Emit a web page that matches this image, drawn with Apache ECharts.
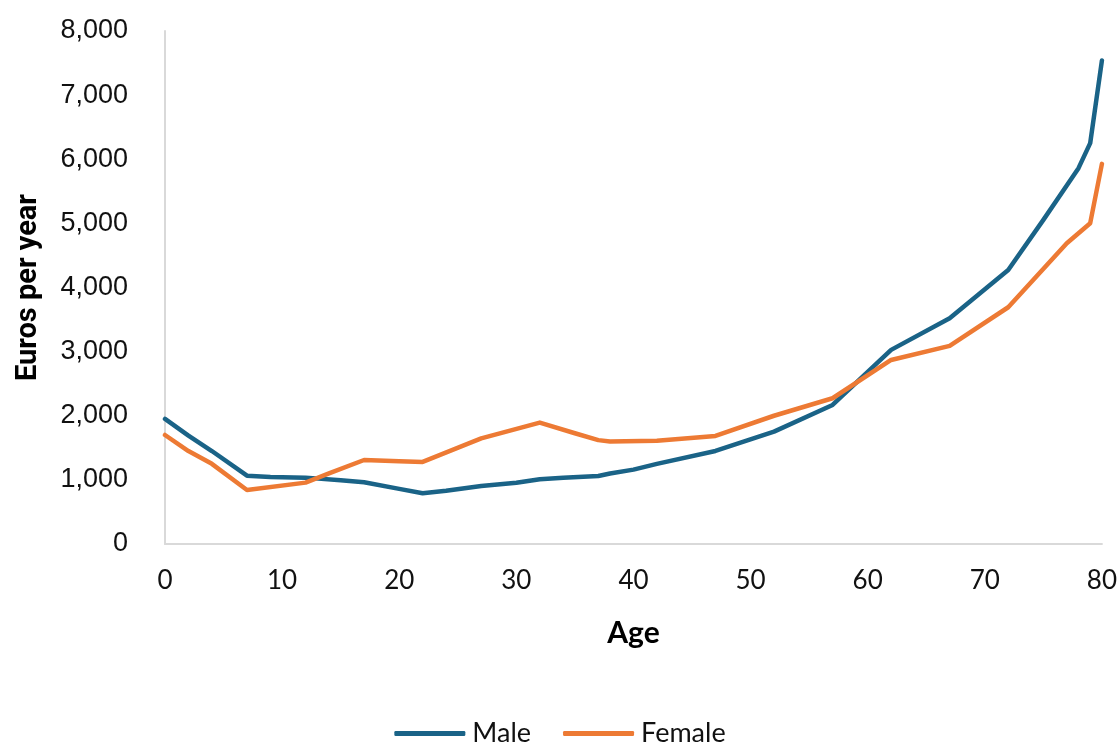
<!DOCTYPE html>
<html>
<head>
<meta charset="utf-8">
<script src="https://cdn.jsdelivr.net/npm/echarts@6/dist/echarts.min.js"></script>
<style>
  html, body { margin: 0; padding: 0; background: #fff; }
  #chart { width: 1120px; height: 744px; }
</style>
</head>
<body>
<div id="chart"></div>
<script>
// ages where the lines bend
var maleAges = [0, 2, 4, 7, 9, 12, 15, 17, 20, 22, 24, 27, 30, 32, 34, 37, 38, 40, 42, 47, 52, 57, 62, 67, 72, 75, 78, 79, 80];
var maleValues = [1950, 1690, 1450, 1065, 1045, 1035, 995, 962, 860, 791, 830, 905, 956, 1010, 1035, 1060, 1100, 1160, 1250, 1451, 1752, 2168, 3027, 3521, 4274, 5055, 5861, 6251, 7540];

var femaleAges = [0, 2, 4, 7, 12, 14, 17, 20, 22, 27, 32, 35, 37, 38, 42, 47, 52, 57, 62, 67, 72, 77, 79, 80];
var femaleValues = [1700, 1450, 1250, 842, 957, 1100, 1310, 1290, 1280, 1648, 1893, 1727, 1620, 1600, 1610, 1685, 2000, 2273, 2870, 3089, 3692, 4691, 5003, 5928];

var seriesNames = ['Male', 'Female'];
var seriesColors = ['#1a6387', '#ed7a34'];

function pairs(xs, ys) {
    return xs.map(function (x, i) { return [x, ys[i]]; });
}

var chart = echarts.init(document.getElementById('chart'));

var option = {
    animation: false,
    grid: { left: 165, right: 17, top: 31, bottom: 200 },
    legend: {
        data: seriesNames,
        left: 'center',
        top: 715,
        icon: 'roundRect',
        itemWidth: 71,
        itemHeight: 5,
        itemGap: 32,
        textStyle: { fontFamily: 'Lato', fontSize: 27, color: '#111', padding: [0, 0, 0, 2] }
    },
    xAxis: {
        type: 'value',
        min: 0,
        max: 80,
        interval: 10,
        name: 'Age',
        nameLocation: 'middle',
        nameGap: 74,
        nameTextStyle: { fontFamily: 'Lato', fontWeight: 'bold', fontSize: 30, color: '#000' },
        axisLine: { show: true, lineStyle: { color: '#d9d9d9', width: 2 } },
        axisTick: { show: false },
        splitLine: { show: false },
        axisLabel: { fontFamily: 'Lato', fontSize: 26, color: '#111', margin: 24 }
    },
    yAxis: {
        type: 'value',
        min: 0,
        max: 8000,
        interval: 1000,
        name: 'Euros per year',
        nameLocation: 'middle',
        nameRotate: 90,
        nameGap: 122,
        nameTextStyle: { fontFamily: 'Roboto', fontWeight: 'bold', fontSize: 29, color: '#000' },
        axisLine: { show: true, lineStyle: { color: '#d9d9d9', width: 2 } },
        axisTick: { show: false },
        splitLine: { show: false },
        axisLabel: {
            fontFamily: 'Liberation Sans',
            fontSize: 27,
            color: '#111',
            margin: 37,
            formatter: function (v) { return v.toLocaleString('en-US'); }
        }
    },
    series: [
        {
            name: seriesNames[0],
            type: 'line',
            data: pairs(maleAges, maleValues),
            symbol: 'none',
            color: seriesColors[0],
            lineStyle: { width: 4.5, color: seriesColors[0], cap: 'round', join: 'round' }
        },
        {
            name: seriesNames[1],
            type: 'line',
            data: pairs(femaleAges, femaleValues),
            symbol: 'none',
            color: seriesColors[1],
            lineStyle: { width: 4.5, color: seriesColors[1], cap: 'round', join: 'round' }
        }
    ]
};

chart.setOption(option);
</script>
</body>
</html>
